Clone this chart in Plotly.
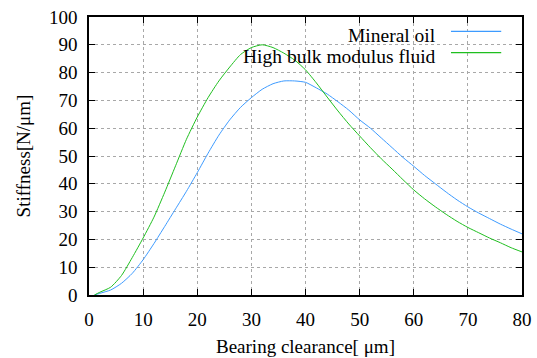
import plotly.graph_objects as go

clearance = [1, 2, 4, 6, 8, 10, 12, 14, 16, 18, 20, 22, 24, 26, 28, 30, 32, 34, 36, 38, 40,
             42, 44, 46, 48, 50, 52, 54, 56, 58, 60, 62, 64, 66, 68, 70, 72, 74, 76, 78, 80]
mineral_oil = [0, 0.6, 1.8, 4.2, 7.8, 12.7, 18.5, 24.7, 31, 37.3, 44, 51, 57.5, 63, 67.5, 71, 74, 76, 77, 77, 76.5,
               74.5, 72.3, 69.5, 66.5, 63, 60, 56.5, 53, 49.5, 46.3, 43, 40, 37, 34.2, 31.7, 29.5, 27.5, 25.5, 23.7, 22]
high_bulk = [0, 1, 2.8, 7, 13.5, 20.5, 28, 37, 46.5, 56, 64, 71, 77, 82, 86.5, 89, 90, 89, 87, 84.5, 81,
             76.3, 71.2, 66.2, 61.5, 57.2, 53, 49, 45.3, 41.5, 37.8, 34.6, 31.7, 29, 26.5, 24.3, 22.4, 20.5, 18.8, 17, 15.5]

series_names = ["Mineral oil", "High bulk modulus fluid"]
series_colors = ["#3d9bff", "#1fbf1f"]
x_ticks = [0, 10, 20, 30, 40, 50, 60, 70, 80]
y_ticks = [0, 10, 20, 30, 40, 50, 60, 70, 80, 90, 100]

FONT = "Liberation Serif, Times New Roman, serif"

fig = go.Figure()
for name, ys, col in zip(series_names, [mineral_oil, high_bulk], series_colors):
    fig.add_trace(go.Scatter(x=clearance, y=ys, mode="lines", name=name,
                             line=dict(color=col, width=1, shape="spline", smoothing=0.6),
                             showlegend=False))

axis_common = dict(
    showline=True, linecolor="black", linewidth=1.5, mirror="allticks",
    ticks="inside", ticklen=6, tickwidth=1, tickcolor="black",
    showgrid=True, gridcolor="#a8a8a8", gridwidth=1, griddash="dot",
    zeroline=False, automargin=False,
    tickfont=dict(family=FONT, size=19, color="black"),
)

fig.update_xaxes(range=[0, 80], tickvals=x_ticks,
                 title=dict(text="Bearing clearance[ μm]", font=dict(family=FONT, size=19, color="black"), standoff=11),
                 ticklabelstandoff=6, **axis_common)
fig.update_yaxes(range=[0, 100], tickvals=y_ticks,
                 title=dict(text="Stiffness[N/μm]", font=dict(family=FONT, size=19, color="black"), standoff=13),
                 ticklabelstandoff=6, **axis_common)

# legend backdrop hiding the grid (as in the original key box)
fig.add_shape(type="rect", xref="paper", yref="paper", x0=0.226, x1=1.0, y0=0.838, y1=1.0,
              fillcolor="white", line=dict(width=0), layer="between")

# legend entries: right-aligned text with line samples to the right
leg_y = [0.948, 0.872]
for name, col, ly in zip(series_names, series_colors, leg_y):
    fig.add_annotation(xref="paper", yref="paper", x=0.806, y=ly - 0.013, text=name, showarrow=False,
                       xanchor="right", yanchor="middle",
                       font=dict(family=FONT, size=19.5, color="black"))
    fig.add_shape(type="line", xref="paper", yref="paper", x0=0.836, x1=0.952, y0=ly, y1=ly,
                  line=dict(color=col, width=1.2))

fig.update_layout(width=537, height=358, margin=dict(l=89, r=15, t=17, b=63),
                  paper_bgcolor="white", plot_bgcolor="white",
                  font=dict(family=FONT, color="black"))

fig.write_html("out.html")
